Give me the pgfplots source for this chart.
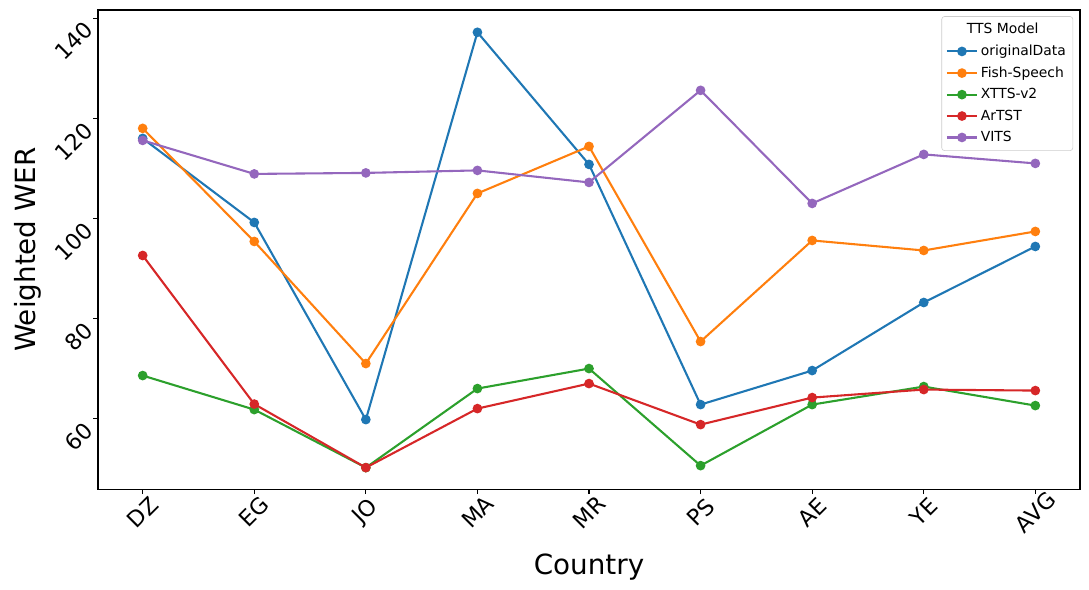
\documentclass[border=0pt]{standalone}
\usepackage{fontspec}
\setmainfont{DejaVu Sans}
\usepackage{pgfplots}
\pgfplotsset{compat=1.18}
\definecolor{c1}{HTML}{1F77B4}
\definecolor{c2}{HTML}{FF7F0E}
\definecolor{c3}{HTML}{2CA02C}
\definecolor{c4}{HTML}{D62728}
\definecolor{c5}{HTML}{9467BD}
\begin{document}
\begin{tikzpicture}
\begin{axis}[
  name=ax,
  scale only axis,
  width=707pt, height=345pt,
  xmin=-0.4, xmax=8.4,
  ymin=45.9, ymax=141.66,
  xtick={0,1,2,3,4,5,6,7,8},
  xticklabels={DZ,EG,JO,MA,MR,PS,AE,YE,AVG},
  ytick={60,80,100,120,140},
  xtick pos=bottom, ytick pos=left,
  tick align=outside,
  major tick length=3.5pt,
  every tick/.style={black, line width=0.8pt},
  axis line style={line width=0.8pt},
  /pgf/number format/assume math mode=true,
  x tick label style={font=\fontsize{16}{19}\selectfont, yshift=-13pt, rotate=45, anchor=center},
  y tick label style={font=\fontsize{16}{19}\selectfont, yshift=-2.5pt, rotate=45, anchor=east, xshift=-1pt},
  xlabel={Country},
  ylabel={Weighted WER},
  xlabel style={font=\fontsize{20}{24}\selectfont, yshift=-5.5pt},
  ylabel style={font=\fontsize{20}{24}\selectfont, yshift=0pt},
  every axis plot/.append style={line width=1.5pt, mark=*, mark size=2.7pt, mark options={draw=white, line width=0.6pt}},
  legend style={at={(rel axis cs:0.993,0.987)}, anchor=north east, font=\fontsize{10}{12}\selectfont,
    draw={rgb,255:red,204;green,204;blue,204}, rounded corners=2pt, inner sep=3pt, row sep=2.5pt},
  legend cell align=left,
  legend image code/.code={\draw[mark repeat=2,mark phase=2] plot coordinates {(0cm,0cm)(0.38cm,0cm)(0.76cm,0cm)};},
]
\addlegendimage{empty legend}
\addlegendentry{\hspace*{-10pt}TTS Model}
\addplot[c1, mark options={fill=c1}] coordinates {(0,116.0)(1,99.2)(2,59.8)(3,137.2)(4,110.8)(5,62.8)(6,69.6)(7,83.2)(8,94.4)};
\addlegendentry{originalData}
\addplot[c2, mark options={fill=c2}] coordinates {(0,118.0)(1,95.4)(2,71.0)(3,105.0)(4,114.4)(5,75.4)(6,95.6)(7,93.6)(8,97.4)};
\addlegendentry{Fish-Speech}
\addplot[c3, mark options={fill=c3}] coordinates {(0,68.6)(1,61.8)(2,50.2)(3,66.0)(4,70.0)(5,50.6)(6,62.8)(7,66.4)(8,62.6)};
\addlegendentry{XTTS-v2}
\addplot[c4, mark options={fill=c4}] coordinates {(0,92.6)(1,62.9)(2,50.2)(3,62.0)(4,67.0)(5,58.8)(6,64.2)(7,65.8)(8,65.6)};
\addlegendentry{ArTST}
\addplot[c5, mark options={fill=c5}] coordinates {(0,115.6)(1,108.9)(2,109.1)(3,109.6)(4,107.2)(5,125.6)(6,103.0)(7,112.8)(8,111.0)};
\addlegendentry{VITS}
\end{axis}
\pgfresetboundingbox
\path[use as bounding box] ([xshift=-70.6pt,yshift=-72pt]ax.south west) rectangle ([xshift=6.5pt,yshift=7.2pt]ax.north east);
\end{tikzpicture}
\end{document}
